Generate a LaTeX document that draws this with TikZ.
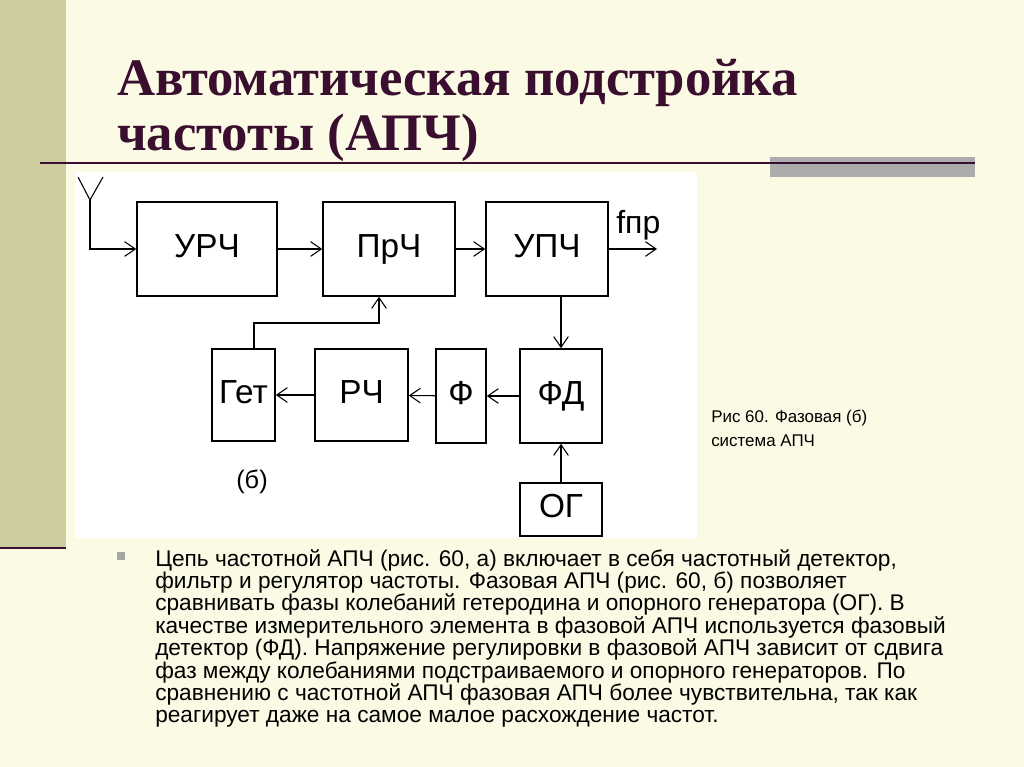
\documentclass[tikz,border=0pt]{standalone}
\usepackage{fontspec}
\setmainfont{Liberation Serif}
\newfontfamily\arialf{Liberation Sans}
\usetikzlibrary{arrows.meta}
\definecolor{cream}{HTML}{FBFBE5}
\definecolor{olive}{HTML}{CDCC9C}
\definecolor{maroon}{HTML}{3A0E2E}
\tikzset{
 blk/.style={draw,line width=1.2pt,rectangle,inner sep=0pt,text height=13pt,text depth=1pt,font=\arialf\fontsize{25}{28}\selectfont},
 con/.style={line width=0.8pt,-{Straight Barb[length=8pt,width=11pt,line width=0.8pt]}},
 ln/.style={line width=0.8pt}
}
\begin{document}
\begin{tikzpicture}[x=0.75pt,y=-0.75pt]
\useasboundingbox (0,0) rectangle (1024,767);
\fill[cream] (0,0) rectangle (1024,767);
\fill[olive] (0,0) rectangle (66,548);
\draw[maroon,line width=1.5pt] (0,548) -- (66,548);
\fill[white] (75,172) rectangle (697,538);
\fill[gray!65] (770,157) rectangle (975,177);
\draw[maroon,line width=2.2pt] (40,163) -- (975,163);
\node[anchor=base west,text=maroon,font=\bfseries\fontsize{39.5}{44}\selectfont,inner sep=0pt] (t1) at (117,95) {Автоматическая подстройка};
\node[anchor=base west,text=maroon,font=\bfseries\fontsize{39.5}{44}\selectfont,inner sep=0pt] (t2) at (117,150) {частоты (АПЧ)};

\node[blk,minimum width=105pt,minimum height=70.5pt] (urch) at (207,249) {УРЧ};
\node[blk,minimum width=99pt,minimum height=70.5pt] (prch) at (389,249) {ПрЧ};
\node[blk,minimum width=91.5pt,minimum height=70.5pt] (upch) at (547,249) {УПЧ};
\node[blk,minimum width=47.25pt,minimum height=69pt] (get) at (243.5,395) {Гет};
\node[blk,minimum width=69.75pt,minimum height=69pt] (rch) at (361.5,395) {РЧ};
\node[blk,minimum width=37.5pt,minimum height=70.5pt] (f) at (461,396) {Ф};
\node[blk,minimum width=61.5pt,minimum height=70.5pt] (fd) at (561,396) {ФД};
\node[blk,minimum width=61.5pt,minimum height=39.75pt] (og) at (561,509.5) {ОГ};

\coordinate (a1) at (78,177);
\coordinate (a2) at (103,177);
\coordinate (a0) at (90,200);
\coordinate (ab) at (90,249);
\draw[ln] (a1) -- (a0) -- (a2);
\draw[con] (a0) -- (ab) -- (urch.west);
\draw[con] (urch) -- (prch);
\draw[con] (prch) -- (upch);
\coordinate (out) at (657,249);
\draw[con] (upch) -- (out);
\node[font=\arialf\fontsize{24}{28}\selectfont,anchor=base west,inner sep=0pt] (fpr) at (616,233) {fпр};
\draw[con] (upch.south -| fd.north) -- (fd.north);
\draw[con] (og) -- (fd);
\draw[con] (fd) -- (f);
\draw[con] (f) -- (rch);
\draw[con] (rch) -- (get);
\coordinate (g1) at (254,323);
\draw[con] (get.north -| g1) -- (g1) -- (g1 -| 379,0) -- (prch.south -| 379,0);
\node[font=\arialf\fontsize{19}{22}\selectfont,inner sep=0pt] (b) at (252,482) {(б)};
\node[font=\arialf\fontsize{12.7}{18}\selectfont,align=left,anchor=north west,inner sep=0pt] (cap) at (711,410) {Рис 60. Фазовая (б)\\система АПЧ};

\fill[gray!70] (117,552) rectangle (125,560);
\node[font=\arialf\fontsize{17}{16.8}\selectfont,align=left,anchor=north west,inner sep=0pt] (body) at (155,549) {Цепь частотной АПЧ (рис. 60, а) включает в себя частотный детектор,\\
фильтр и регулятор частоты. Фазовая АПЧ (рис. 60, б) позволяет\\
сравнивать фазы колебаний гетеродина и опорного генератора (ОГ). В\\
качестве измерительного элемента в фазовой АПЧ используется фазовый\\
детектор (ФД). Напряжение регулировки в фазовой АПЧ зависит от сдвига\\
фаз между колебаниями подстраиваемого и опорного генераторов. По\\
сравнению с частотной АПЧ фазовая АПЧ более чувствительна, так как\\
реагирует даже на самое малое расхождение частот.};
\end{tikzpicture}
\end{document}
